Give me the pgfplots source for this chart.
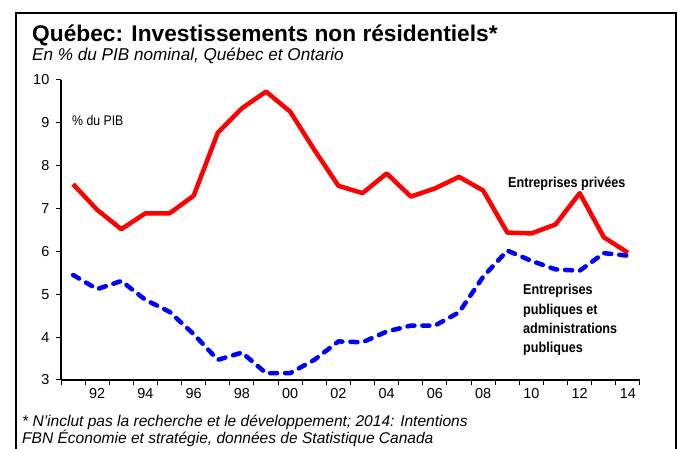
\documentclass[border=0pt]{standalone}
\usepackage{pgfplots}
\pgfplotsset{compat=1.18}
\usepackage{fontspec}
\setmainfont{Liberation Sans}
\newfontfamily\condfont[FakeStretch=0.88]{Liberation Sans}
\definecolor{pred}{RGB}{255,0,0}
\definecolor{pblue}{RGB}{0,0,255}
\begin{document}
\begin{tikzpicture}[x=1bp,y=1bp]
\path[use as bounding box] (0,0) rectangle (678,449);
\draw[line width=2bp] (16,-10) -- (16,436) -- (676,436) -- (676,-10);
\node[anchor=base west, inner sep=0] at (32,407) {\fontsize{22.8}{26}\selectfont\bfseries Québec: Investissements non résidentiels*};
\node[anchor=base west, inner sep=0] at (32,388) {\fontsize{17.2}{20}\selectfont\itshape En \% du PIB nominal, Québec et Ontario};
\begin{axis}[
  at={(61bp,69bp)}, anchor=south west, scale only axis,
  width=579bp, height=300bp,
  xmin=1990.5, xmax=2014.5, ymin=3, ymax=10,
  axis x line*=bottom, axis y line*=left,
  axis line style={line width=1.2bp, -},
  tick style={line width=1bp, black},
  tick align=outside,
  ytick={3,...,10},
  major tick length=5.5bp,
  xtick={1990.5,1991.5,...,2014.5},
  xticklabels={},
  extra x ticks={1992,1994,...,2014},
  extra x tick labels={92,94,96,98,00,02,04,06,08,10,12,14},
  extra x tick style={major tick length=0pt},
  /pgf/number format/assume math mode=true,
  ticklabel style={font=\fontsize{14.5}{16}\selectfont},
  yticklabel style={inner sep=0pt, xshift=-6bp},
  xticklabel style={inner sep=0pt, yshift=-8bp},
  clip=false,
]
\addplot[pred, line width=4.5bp, line join=round] coordinates {
(1991,7.57) (1992,6.97) (1993,6.52) (1994,6.89) (1995,6.89) (1996,7.30)
(1997,8.77) (1998,9.34) (1999,9.73) (2000,9.26) (2001,8.37) (2002,7.53)
(2003,7.36) (2004,7.82) (2005,7.28) (2006,7.47) (2007,7.74) (2008,7.42)
(2009,6.44) (2010,6.42) (2011,6.63) (2012,7.36) (2013,6.33) (2014,5.97)};
\addplot[pblue, line width=4.5bp, line cap=round, line join=round, dash pattern=on 7bp off 8bp] coordinates {
(1991,5.45) (1992,5.12) (1993,5.31) (1994,4.87) (1995,4.59) (1996,4.07)
(1997,3.47) (1998,3.64) (1999,3.16) (2000,3.16) (2001,3.47) (2002,3.90)
(2003,3.88) (2004,4.13) (2005,4.27) (2006,4.27) (2007,4.58) (2008,5.41)
(2009,6.02) (2010,5.78) (2011,5.58) (2012,5.55) (2013,5.96) (2014,5.90)};
\end{axis}
\node[anchor=base west, inner sep=0] at (72,323) {\fontsize{14}{16}\selectfont\condfont\% du PIB};
\node[anchor=base west, inner sep=0] at (508,261) {\fontsize{14.4}{16}\selectfont\condfont\bfseries Entreprises privées};
\node[anchor=north west, inner sep=0, align=left, font=\fontsize{14.4}{19.5}\selectfont\condfont\bfseries] at (523,165) {Entreprises\\publiques et\\administrations\\publiques};
\node[anchor=base west, inner sep=0] at (22,22) {\fontsize{15.6}{16}\selectfont\itshape * N’inclut pas la recherche et le développement; 2014: Intentions};
\node[anchor=base west, inner sep=0] at (22,5) {\fontsize{15.6}{16}\selectfont\itshape FBN Économie et stratégie, données de Statistique Canada};
\end{tikzpicture}
\end{document}
